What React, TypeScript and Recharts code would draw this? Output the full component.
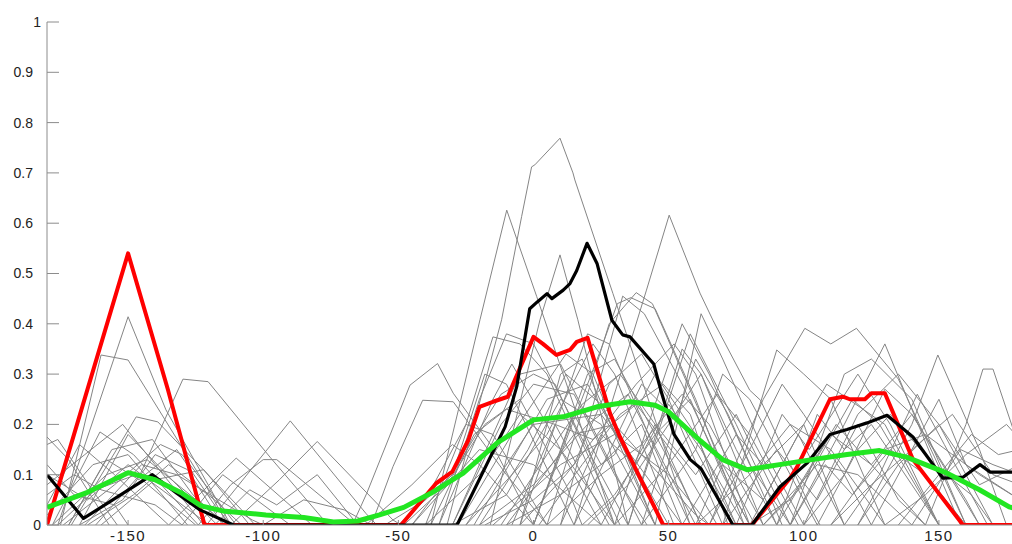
import { LineChart, Line, XAxis, YAxis } from "recharts";

// [x, y] vertices, one list per trace
const grayTraces: number[][][] = [
  [[-176, 0], [-150, 0.414], [-136, 0.229], [-112, 0]],
  [[-175, 0], [-160, 0.338], [-150, 0.328], [-121, 0.076], [-113, 0]],
  [[-162, 0], [-145.6, 0.1], [-129.7, 0.29], [-120.4, 0.285], [-97.5, 0.135], [-76, 0]],
  [[-171, 0], [-147, 0.215], [-139, 0.205], [-108, 0.03], [-103, 0]],
  [[-180, 0.175], [-172, 0.13], [-157, 0]],
  [[-180, 0.16], [-176, 0.17], [-162, 0.06], [-154, 0]],
  [[-178, 0], [-160.4, 0.185], [-148, 0.14], [-124, 0]],
  [[-168, 0], [-150, 0.18], [-132, 0.08], [-117, 0]],
  [[-172, 0], [-156, 0.15], [-141, 0.17], [-126, 0.06], [-114, 0]],
  [[-180, 0.02], [-163, 0.12], [-150, 0.14], [-128, 0]],
  [[-178, 0], [-158, 0.1], [-143, 0.13], [-118, 0.02], [-112, 0]],
  [[-166, 0], [-145, 0.12], [-132, 0.1], [-104, 0.01], [-100, 0]],
  [[-180, 0.06], [-170, 0.1], [-160, 0.07], [-140, 0.04], [-130, 0]],
  [[-174, 0], [-155, 0.08], [-138, 0.16], [-130, 0.14], [-110, 0]],
  [[-180, 0.1], [-165, 0.05], [-150, 0.12], [-135, 0.06], [-120, 0]],
  [[-176, 0], [-162, 0.07], [-147, 0.1], [-125, 0]],
  [[-180, 0.04], [-168, 0.16], [-155, 0.1], [-135, 0]],
  [[-165, 0], [-148, 0.06], [-135, 0.12], [-118, 0.05], [-108, 0]],
  [[-160, 0], [-140, 0.09], [-122, 0.11], [-105, 0]],
  [[-180, 0.12], [-170, 0.06], [-155, 0.04], [-150, 0]],
  [[-172, 0], [-158, 0.13], [-146, 0.09], [-132, 0.15], [-118, 0.04], [-112, 0]],
  [[-180, 0.08], [-166, 0.14], [-152, 0.2], [-140, 0.12], [-122, 0]],
  [[-168, 0], [-152, 0.05], [-140, 0.14], [-128, 0.11], [-115, 0]],
  [[-121, 0], [-90, 0.207], [-62, 0.023], [-58, 0]],
  [[-112, 0], [-94, 0.09], [-80, 0.166], [-52, 0.01], [-49, 0]],
  [[-135, 0], [-110, 0.133], [-86, 0.02], [-82, 0]],
  [[-124, 0], [-112, 0.08], [-100, 0.13], [-95, 0.13], [-68, 0.01], [-64, 0]],
  [[-130, 0], [-115, 0.1], [-105, 0.06], [-90, 0]],
  [[-100, 0], [-85, 0.05], [-70, 0.03], [-60, 0]],
  [[-118, 0], [-105, 0.07], [-95, 0.04], [-80, 0.1], [-65, 0]],
  [[-67, 0], [-61.7, 0.063], [-45.7, 0.278], [-35.5, 0.321], [-29.7, 0.262], [-13.6, 0.143], [0, 0]],
  [[-60, 0], [-52, 0.116], [-41, 0.248], [-29.7, 0.245], [-10, 0.1], [5, 0]],
  [[-62, 0], [-45, 0.08], [-30, 0.16], [-20, 0.12], [0, 0]],
  [[-55, 0], [-40, 0.05], [-25, 0.2], [-15, 0.18], [5, 0]],
  [[-50, 0], [-30, 0.1], [-18, 0.3], [-10, 0.28], [15, 0]],
  [[-45, 0], [-28, 0.12], [-12, 0.26], [0, 0.3], [8, 0.28], [32, 0]],
  [[-48, 0], [-32, 0.08], [-18, 0.2], [-5, 0.25], [12, 0.08], [18, 0]],
  [[-32, 0], [-11.8, 0.408], [-4.4, 0.613], [-0.7, 0.712], [0.5, 0.716], [9.8, 0.769], [14.6, 0.7], [15.3, 0.686], [29.4, 0.46], [58, 0]],
  [[-38, 0], [-19.8, 0.408], [-9.9, 0.626], [1.2, 0.454], [30, 0]],
  [[-16, 0], [2.4, 0.408], [9.8, 0.537], [16.4, 0.408], [35, 0]],
  [[15, 0], [41.8, 0.467], [50.2, 0.616], [61.6, 0.461], [66.4, 0.407], [80, 0.268], [84, 0.248], [102, 0.04], [106, 0]],
  [[0, 0], [25, 0.35], [31, 0.44], [36, 0.452], [45, 0.43], [60, 0.25], [78, 0]],
  [[5, 0], [28, 0.4], [38, 0.462], [44, 0.44], [70, 0.12], [82, 0]],
  [[10, 0], [33, 0.455], [41, 0.42], [55, 0.28], [75, 0.05], [80, 0]],
  [[-40, 0], [-25, 0.2], [-15, 0.374], [-5, 0.36], [5, 0.3], [30, 0]],
  [[-35, 0], [-20, 0.25], [-10, 0.38], [0, 0.36], [20, 0.15], [35, 0]],
  [[-30, 0], [-5, 0.3], [10, 0.32], [40, 0]],
  [[-22, 0], [5, 0.25], [20, 0.28], [50, 0]],
  [[-25, 0], [0, 0.2], [25, 0.22], [55, 0]],
  [[-10, 0], [15, 0.18], [30, 0.2], [60, 0.02], [65, 0]],
  [[-45, 0], [-20, 0.15], [0, 0.12], [25, 0]],
  [[0, 0], [20, 0.3], [30, 0.33], [55, 0.08], [62, 0]],
  [[15, 0], [40, 0.28], [55, 0.2], [70, 0.05], [75, 0]],
  [[-15, 0], [10, 0.12], [30, 0.18], [50, 0.1], [65, 0]],
  [[-5, 0], [20, 0.38], [28, 0.36], [45, 0.15], [58, 0]],
  [[-40, 0], [-20, 0.1], [-5, 0.22], [10, 0.15], [30, 0]],
  [[-30, 0], [-10, 0.06], [10, 0.25], [25, 0.2], [45, 0]],
  [[-20, 0], [0, 0.08], [20, 0.2], [35, 0.26], [60, 0]],
  [[-10, 0], [10, 0.06], [30, 0.14], [45, 0.3], [60, 0.18], [75, 0]],
  [[5, 0], [25, 0.1], [40, 0.16], [55, 0.26], [65, 0.2], [85, 0]],
  [[20, 0], [35, 0.08], [50, 0.2], [62, 0.3], [75, 0.15], [90, 0]],
  [[-35, 0], [-15, 0.25], [-8, 0.32], [5, 0.2], [25, 0]],
  [[-28, 0], [-8, 0.18], [12, 0.34], [22, 0.3], [45, 0]],
  [[0, 0], [15, 0.22], [25, 0.12], [40, 0.2], [55, 0]],
  [[25, 0], [45, 0.2], [60, 0.1], [75, 0.22], [95, 0]],
  [[30, 0], [50, 0.12], [68, 0.26], [80, 0.18], [98, 0]],
  [[-5, 0], [12, 0.1], [38, 0.28], [52, 0.36], [60, 0.3], [80, 0]],
  [[35, 0], [55, 0.35], [62, 0.3], [85, 0]],
  [[-30, 0], [-12, 0.2], [0, 0.28], [15, 0.26], [30, 0.1], [42, 0]],
  [[-20, 0], [-2, 0.15], [12, 0.3], [25, 0.24], [40, 0.08], [48, 0]],
  [[-38, 0], [-22, 0.18], [-10, 0.23], [8, 0.2], [28, 0]],
  [[-12, 0], [5, 0.14], [18, 0.24], [32, 0.3], [45, 0.2], [62, 0]],
  [[-8, 0], [8, 0.2], [22, 0.17], [38, 0.24], [55, 0.12], [68, 0]],
  [[2, 0], [18, 0.12], [32, 0.22], [48, 0.28], [58, 0.22], [72, 0]],
  [[10, 0], [25, 0.18], [38, 0.12], [50, 0.24], [62, 0.15], [78, 0]],
  [[-25, 0], [-8, 0.1], [5, 0.18], [22, 0.36], [30, 0.3], [52, 0]],
  [[18, 0], [30, 0.06], [45, 0.18], [58, 0.25], [70, 0.1], [80, 0]],
  [[-18, 0], [0, 0.05], [15, 0.12], [28, 0.28], [40, 0.34], [50, 0.25], [70, 0]],
  [[-5, 0], [10, 0.3], [18, 0.33], [35, 0.12], [45, 0]],
  [[30, 0], [55, 0.4], [65, 0.3], [80, 0.12], [95, 0]],
  [[35, 0], [58, 0.38], [75, 0.2], [88, 0.05], [92, 0]],
  [[40, 0], [60, 0.33], [72, 0.22], [90, 0]],
  [[40, 0], [60, 0.15], [70, 0.3], [80, 0.25], [100, 0.05], [105, 0]],
  [[45, 0], [62, 0.42], [70, 0.33], [85, 0.15], [100, 0]],
  [[55, 0], [75, 0.18], [85, 0.12], [100, 0.2], [115, 0]],
  [[60, 0], [80, 0.1], [95, 0.2], [110, 0.15], [130, 0]],
  [[60, 0], [70, 0.12], [85, 0.05], [98, 0.18], [115, 0]],
  [[65, 0], [85, 0.25], [100.4, 0.391], [110, 0.36], [119.5, 0.391], [135, 0.29], [160, 0]],
  [[65, 0], [80, 0.15], [92, 0.28], [100, 0.22], [115, 0.1], [125, 0]],
  [[70, 0], [90, 0.348], [100, 0.3], [110, 0.25], [130, 0]],
  [[70, 0], [90, 0.15], [105, 0.05], [120, 0.2], [135, 0.05], [145, 0]],
  [[75, 0], [92, 0.22], [102, 0.15], [120, 0.3], [132, 0.2], [150, 0]],
  [[80, 0], [100, 0.2], [108.5, 0.28], [130, 0.2], [150, 0]],
  [[80, 0], [95, 0.05], [112, 0.2], [120, 0.15], [145, 0]],
  [[85, 0], [105, 0.12], [120, 0.1], [140, 0]],
  [[85, 0], [100, 0.08], [118, 0.25], [128, 0.2], [150, 0]],
  [[90, 0], [110, 0.18], [125, 0.12], [140, 0.22], [160, 0.05], [165, 0]],
  [[90, 0], [105, 0.22], [115, 0.15], [125, 0.2], [140, 0.08], [150, 0]],
  [[95, 0], [115, 0.2], [130, 0.36], [150, 0.1], [158, 0]],
  [[95, 0], [115, 0.3], [125, 0.33], [140, 0.25], [160, 0]],
  [[95, 0], [108, 0.12], [118, 0.06], [132, 0.15], [145, 0.1], [160, 0]],
  [[100, 0], [120, 0.22], [135, 0.3], [150, 0.2], [170, 0]],
  [[100, 0], [115, 0.1], [130, 0.27], [140, 0.22], [165, 0]],
  [[105, 0], [120, 0.15], [132, 0.22], [148, 0.12], [162, 0.06], [170, 0]],
  [[110, 0], [130, 0.15], [145, 0.18], [165, 0.1], [180, 0.05]],
  [[110, 0], [125, 0.08], [140, 0.15], [155, 0.22], [170, 0.1], [180, 0.08]],
  [[115, 0], [128, 0.1], [142, 0.26], [152, 0.16], [168, 0]],
  [[120, 0], [140, 0.2], [149.6, 0.338], [165, 0.15], [175, 0]],
  [[120, 0], [135, 0.12], [150, 0.2], [165, 0.08], [180, 0.12]],
  [[125, 0], [150, 0.25], [160, 0.12], [180, 0.05]],
  [[130, 0], [145, 0.06], [160, 0.14], [175, 0.2], [180, 0.17]],
  [[135, 0], [150, 0.1], [162, 0.18], [172, 0.14], [180, 0.15]],
  [[140, 0], [158, 0.15], [170, 0.12], [180, 0.1]],
  [[145, 0], [160, 0.2], [166.3, 0.31], [170, 0.31], [180, 0.15]],
];

const redTrace = [
  [-180, 0], [-165, 0.27], [-150, 0.54], [-135.3, 0.27], [-121.7, 0], [-49, 0], [-36, 0.083], [-30, 0.106],
  [-24, 0.17], [-20, 0.235], [-15, 0.245], [-9.5, 0.255], [-8, 0.275], [0, 0.374], [3.5, 0.36], [8.5, 0.338],
  [13.5, 0.348], [16, 0.364], [20, 0.372], [28.3, 0.222], [32, 0.175], [48, 0], [80.8, 0], [94.9, 0.093],
  [97.5, 0.115], [109.7, 0.25], [114.5, 0.255], [117, 0.25], [122.6, 0.25], [125, 0.262], [130, 0.262],
  [140.4, 0.13], [158.9, 0], [180, 0],
];

const blackTrace = [
  [-180, 0.1], [-166.5, 0.013], [-141, 0.1], [-132, 0.063], [-123.4, 0.03], [-111, 0], [-28.3, 0],
  [-10.5, 0.195], [-6.2, 0.275], [-1.4, 0.43], [1.3, 0.443], [5, 0.46], [6.8, 0.45], [11, 0.467],
  [13.5, 0.48], [16, 0.506], [19.8, 0.56], [23.5, 0.52], [29, 0.407], [33, 0.378], [35.7, 0.374],
  [44.5, 0.32], [47, 0.27], [52, 0.18], [58, 0.13], [62, 0.112], [73.8, 0], [80.8, 0], [91.2, 0.076],
  [101.2, 0.123], [109.7, 0.18], [116, 0.19], [123.4, 0.203], [130.8, 0.218], [140.4, 0.175],
  [151.5, 0.093], [158.9, 0.095], [165.2, 0.12], [169, 0.105], [180, 0.105],
];

const greenTrace = [
  [-180, 0.035], [-165, 0.065], [-150, 0.104], [-140, 0.09], [-130, 0.063], [-123, 0.038], [-115, 0.028],
  [-99, 0.02], [-85, 0.015], [-74, 0.006], [-65, 0.008], [-57, 0.02], [-48, 0.035], [-38, 0.063],
  [-26, 0.103], [-13.5, 0.163], [0, 0.209], [11, 0.215], [23.5, 0.235], [35.7, 0.245], [45, 0.238],
  [50, 0.225], [54, 0.205], [61.6, 0.168], [70, 0.13], [79, 0.11], [91, 0.12], [103, 0.13], [116, 0.14],
  [128, 0.148], [138, 0.135], [153, 0.103], [165, 0.07], [176, 0.036], [180, 0.03],
];

const xTicks = [-150, -100, -50, 0, 50, 100, 150];
const yTicks = [0, 0.1, 0.2, 0.3, 0.4, 0.5, 0.6, 0.7, 0.8, 0.9, 1];

const AXIS = "#8c8c8c";
const FONT = "'Liberation Sans', Arial, Helvetica, sans-serif";

const toPts = (arr: number[][]) => arr.map(([x, y]) => ({ x, y }));

function LeftTick({ x, y, payload }: any) {
  const v = payload.value;
  const whole = v === 0 || v === 1;
  return (
    <g>
      <line x1={x} x2={x + 12} y1={y} y2={y} stroke={AXIS} />
      <text x={whole ? x - 6 : x - 14} y={y} dy="0.35em" textAnchor="end" fontSize={14} fontFamily={FONT} fill="#222">
        {String(v)}
      </text>
    </g>
  );
}

function BottomTick({ x, y, payload }: any) {
  return (
    <g>
      <line x1={x} x2={x} y1={y} y2={y - 5} stroke={AXIS} />
      <text x={x} y={y + 16} textAnchor="middle" fontSize={15} letterSpacing={1.5} fontFamily={FONT} fill="#222">
        {String(payload.value)}
      </text>
    </g>
  );
}

function TopTick({ x, y }: any) {
  return <line x1={x} x2={x} y1={y} y2={y + 5} stroke={AXIS} />;
}

function RightTick({ x, y }: any) {
  return <line x1={x} x2={x - 12} y1={y} y2={y} stroke={AXIS} />;
}

export default function App() {
  return (
    <div style={{ position: "fixed", left: 0, top: 0, width: 1012, height: 544, overflow: "hidden", background: "#fff" }}>
      <LineChart width={1020} height={544} margin={{ top: 22, right: 0, bottom: 0, left: 0 }}>
        <XAxis
          type="number"
          dataKey="x"
          domain={[-180, 180]}
          ticks={xTicks}
          height={19}
          tickSize={0}
          tickMargin={0}
          tickLine={false}
          axisLine={{ stroke: AXIS }}
          tick={<BottomTick />}
          interval={0}
          allowDataOverflow
        />
        <XAxis
          xAxisId="top"
          orientation="top"
          type="number"
          dataKey="x"
          domain={[-180, 180]}
          ticks={xTicks}
          height={0}
          tickSize={0}
          tickMargin={0}
          tickLine={false}
          axisLine={{ stroke: AXIS }}
          tick={<TopTick />}
          interval={0}
        />
        <YAxis
          type="number"
          domain={[0, 1]}
          ticks={yTicks}
          width={47}
          tickSize={0}
          tickMargin={0}
          tickLine={false}
          axisLine={{ stroke: AXIS }}
          tick={<LeftTick />}
          interval={0}
          allowDataOverflow
        />
        <YAxis
          yAxisId="right"
          orientation="right"
          type="number"
          domain={[0, 1]}
          ticks={yTicks}
          width={0}
          tickSize={0}
          tickMargin={0}
          tickLine={false}
          axisLine={{ stroke: AXIS }}
          tick={<RightTick />}
          interval={0}
        />
        {grayTraces.map((g, i) => (
          <Line
            key={"g" + i}
            data={toPts(g)}
            dataKey="y"
            type="linear"
            stroke="#858585"
            strokeWidth={1}
            dot={false}
            activeDot={false}
            isAnimationActive={false}
          />
        ))}
        <Line data={toPts(redTrace)} dataKey="y" type="linear" stroke="#ff0000" strokeWidth={4} strokeLinejoin="round" dot={false} activeDot={false} isAnimationActive={false} />
        <Line data={toPts(blackTrace)} dataKey="y" type="linear" stroke="#000000" strokeWidth={3.2} strokeLinejoin="round" dot={false} activeDot={false} isAnimationActive={false} />
        <Line data={toPts(greenTrace)} dataKey="y" type="linear" stroke="#22e622" strokeWidth={5} strokeLinejoin="round" dot={false} activeDot={false} isAnimationActive={false} />
      </LineChart>
    </div>
  );
}
